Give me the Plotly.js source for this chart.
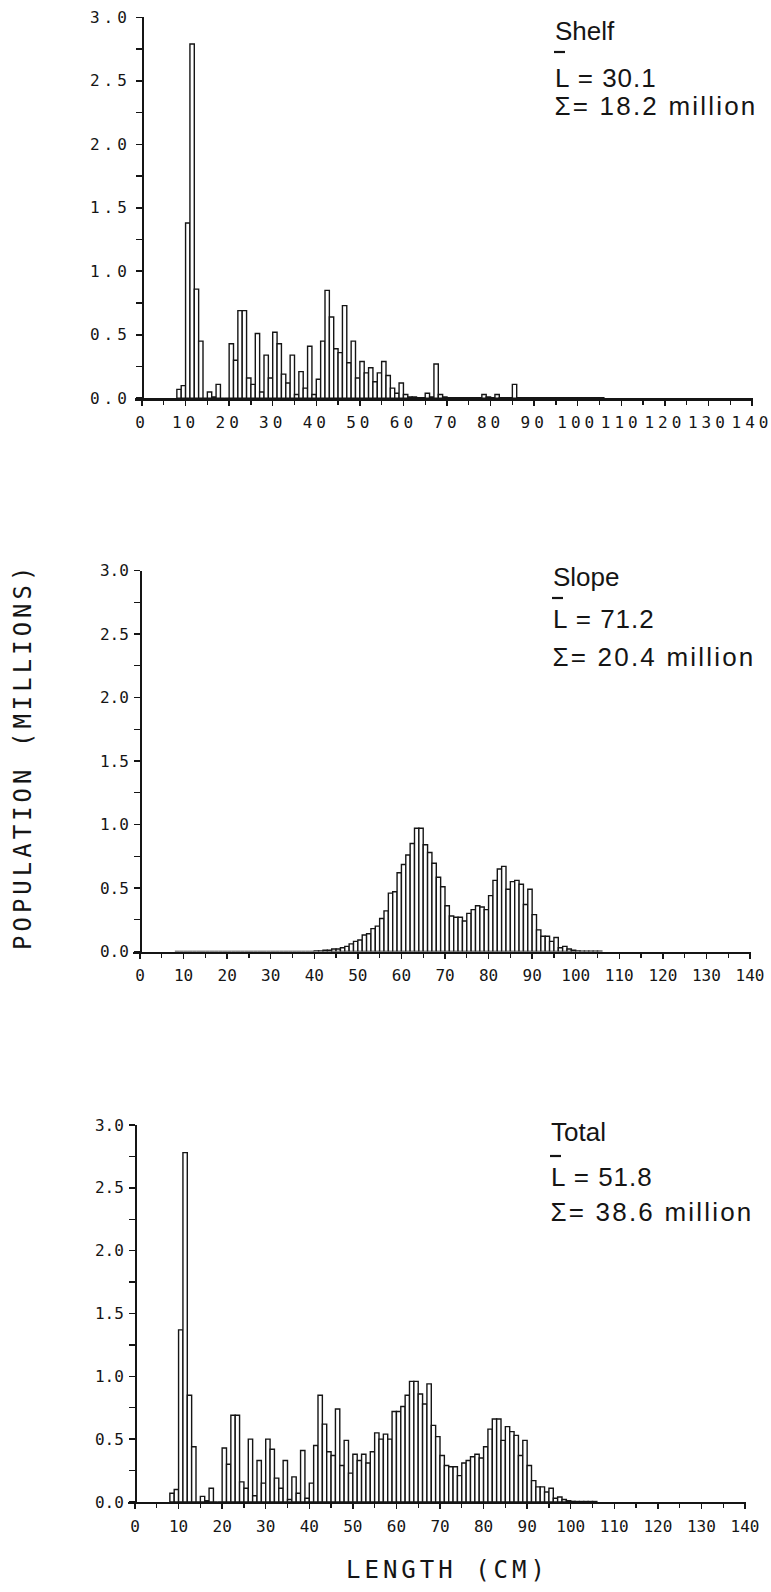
<!DOCTYPE html>
<html>
<head>
<meta charset="utf-8">
<script src="https://cdn.plot.ly/plotly-3.0.1.min.js"></script>
<style>
html,body{margin:0;padding:0;background:#fff;}
#chart{width:771px;height:1592px;}
.xtick text,.ytick text{letter-spacing:4px;}
g.annotation[data-index="0"] text, g.annotation[data-index="1"] text{letter-spacing:4px;}
g.annotation[data-index="3"] text, g.annotation[data-index="6"] text, g.annotation[data-index="9"] text{letter-spacing:1px;}
g.annotation[data-index="4"] text, g.annotation[data-index="7"] text, g.annotation[data-index="10"] text{letter-spacing:2.2px;}
</style>
</head>
<body>
<div id="chart"></div>
<script>
// Length classes (cm), left edge of each 1-cm class
const lengthClasses = [8,9,10,11,12,13,14,15,16,17,18,19,20,21,22,23,24,25,26,27,28,29,30,31,32,33,34,35,36,37,38,39,40,41,42,43,44,45,46,47,48,49,50,51,52,53,54,55,56,57,58,59,60,61,62,63,64,65,66,67,68,69,70,71,72,73,74,75,76,77,78,79,80,81,82,83,84,85,86,87,88,89,90,91,92,93,94,95,96,97,98,99,100,101,102,103,104,105];

// Population (millions) per length class
const shelfPop = [0.07,0.10,1.38,2.79,0.86,0.45,0,0.05,0.01,0.11,0,0,0.43,0.30,0.69,0.69,0.16,0.11,0.51,0.05,0.34,0.16,0.52,0.43,0.19,0.12,0.34,0.03,0.21,0.08,0.41,0.03,0.15,0.45,0.85,0.64,0.39,0.36,0.73,0.28,0.45,0.16,0.29,0.20,0.24,0.13,0.20,0.29,0.18,0.08,0.04,0.12,0.03,0.01,0.01,0.005,0.005,0.04,0.01,0.27,0.03,0.01,0.005,0.005,0.005,0.005,0.005,0.005,0.005,0.005,0.03,0.01,0.005,0.03,0.005,0.005,0.005,0.11,0.005,0.004,0.004,0.004,0.004,0.004,0.004,0.004,0.004,0.004,0.004,0.004,0.004,0.004,0.004,0.004,0.004,0.004,0.004,0.004];

const slopePop = [0,0,0,0,0,0,0,0,0,0,0,0,0,0,0,0,0,0,0,0,0,0,0,0,0,0,0,0,0,0,0,0,0.005,0.005,0.01,0.01,0.02,0.02,0.03,0.04,0.06,0.08,0.09,0.13,0.14,0.18,0.20,0.26,0.32,0.46,0.47,0.62,0.685,0.76,0.85,0.97,0.97,0.84,0.78,0.695,0.585,0.51,0.36,0.28,0.27,0.27,0.24,0.30,0.33,0.36,0.35,0.33,0.44,0.56,0.65,0.67,0.49,0.55,0.56,0.53,0.37,0.49,0.29,0.17,0.12,0.12,0.08,0.11,0.03,0.04,0.02,0.01,0.005,0.003,0.003,0.003,0.003,0.003];

const totalPop = [0.07,0.10,1.37,2.78,0.85,0.44,0,0.045,0.01,0.11,0,0,0.43,0.30,0.69,0.69,0.16,0.11,0.50,0.05,0.33,0.15,0.50,0.42,0.19,0.11,0.33,0.02,0.20,0.07,0.41,0.03,0.15,0.45,0.85,0.62,0.40,0.37,0.74,0.29,0.49,0.23,0.38,0.33,0.38,0.31,0.40,0.55,0.50,0.54,0.50,0.72,0.72,0.76,0.85,0.96,0.96,0.86,0.78,0.94,0.61,0.52,0.37,0.29,0.28,0.28,0.21,0.31,0.33,0.36,0.38,0.35,0.44,0.58,0.66,0.66,0.49,0.60,0.56,0.53,0.37,0.49,0.29,0.17,0.12,0.12,0.08,0.11,0.03,0.04,0.02,0.01,0.005,0.004,0.004,0.004,0.004,0.004];

const xTickVals = [0,10,20,30,40,50,60,70,80,90,100,110,120,130,140];
const xTickText = ['0','10','20','30','40','50','60','70','80','90','100','110','120','130','140'];
const yTickVals = [0,0.5,1.0,1.5,2.0,2.5,3.0];
const yTickText = ['0.0','0.5','1.0','1.5','2.0','2.5','3.0'];

const panelNames = ['Shelf','Slope','Total'];
const meanLength = ['30.1','71.2','51.8'];
const totalMillions = ['18.2','20.4','38.6'];

const W = 771, H = 1592;
const INK = '#151515';
const tickFont = {family: 'DejaVu Sans Mono', size: 16, color: INK};

// panel geometry in pixels
const panels = [
  {left:135, x0:142, x140:752, right:753, top:17.3, bottom:398.3,
   lab:{x:553, name:31, bar:52, L:78, S:106}},
  {left:133, x0:140, x140:750, right:751, top:570.5, bottom:951.5,
   lab:{x:551, name:577, bar:598, L:619, S:657}},
  {left:128, x0:135, x140:745, right:746, top:1125, bottom:1502,
   lab:{x:549, name:1132, bar:1156, L:1177, S:1212}}
];

const series = [shelfPop, slopePop, totalPop];
const centers = lengthClasses.map(v => v + 0.5);

const data = [];
const layout = {
  width: W, height: H,
  margin: {l:0, r:0, t:0, b:0},
  paper_bgcolor: '#fff', plot_bgcolor: 'rgba(0,0,0,0)',
  bargap: 0, showlegend: false,
  annotations: [], shapes: []
};

// axis titles first (index 0 and 1)
layout.annotations.push({
  text: 'POPULATION (MILLIONS)', xref:'paper', yref:'paper',
  x: 23/W, y: 1 - 757/H, textangle: -90, showarrow:false,
  xanchor:'center', yanchor:'middle',
  font:{family:'DejaVu Sans Mono', size:24, color:INK}
});
layout.annotations.push({
  text: 'LENGTH (CM)', xref:'paper', yref:'paper',
  x: 447/W, y: 1 - 1570/H, showarrow:false,
  xanchor:'center', yanchor:'middle',
  font:{family:'DejaVu Sans Mono', size:24, color:INK}
});

panels.forEach((p, i) => {
  const sfx = i === 0 ? '' : String(i + 1);
  const scale = (p.x140 - p.x0) / 140;
  const xmin = -(p.x0 - p.left) / scale;
  const xmax = 140 + (p.right - p.x140) / scale;
  data.push({
    type:'bar', x: centers, y: series[i], width: 1,
    xaxis: 'x' + sfx, yaxis: 'y' + sfx,
    marker: {color:'#ffffff', line:{color:INK, width:1.4}},
    hoverinfo:'skip'
  });
  layout['xaxis' + sfx] = {
    domain: [p.left / W, p.right / W],
    anchor: 'y' + sfx,
    range: [xmin, xmax],
    showline: true, linecolor: INK, linewidth: 2.4,
    showgrid: false, zeroline: false,
    ticks: 'outside', ticklen: 5, tickwidth: 1.5, tickcolor: INK,
    tickmode: 'array', tickvals: xTickVals, ticktext: xTickText,
    minor: {tickvals: [5,15,25,35,45,55,65,75,85,95,105,115,125,135], ticks:'outside', ticklen:4, tickwidth:1.3, tickcolor:INK},
    tickfont: tickFont, ticklabelstandoff: 3, ticklabeloverflow: 'allow', fixedrange: true
  };
  layout['yaxis' + sfx] = {
    domain: [1 - p.bottom / H, 1 - p.top / H],
    anchor: 'free', position: p.x0 / W,
    range: [0, 3.0],
    showline: true, linecolor: INK, linewidth: 1.8,
    showgrid: false, zeroline: false,
    ticks: 'outside', ticklen: 6, tickwidth: 1.6, tickcolor: INK,
    tickmode: 'array', tickvals: yTickVals, ticktext: yTickText,
    minor: {tickvals: [0.25,0.75,1.25,1.75,2.25,2.75], ticks:'outside', ticklen:6, tickwidth:1.4, tickcolor:INK},
    tickfont: tickFont, ticklabelstandoff: 2, ticklabeloverflow: 'allow', fixedrange: true
  };
  const annFont = {family:'Liberation Sans', size:26, color:INK};
  const lx = p.lab.x;
  // letter-spacing (CSS) widens centred text on both sides; offset by half the extra width
  layout.annotations.push({text: panelNames[i], xref:'paper', yref:'paper', x: lx / W, y: 1 - p.lab.name / H, xanchor:'left', yanchor:'middle', showarrow:false, font: annFont});
  layout.annotations.push({text: 'L = ' + meanLength[i], xref:'paper', yref:'paper', x: (lx + 4) / W, y: 1 - p.lab.L / H, xanchor:'left', yanchor:'middle', showarrow:false, font: annFont});
  layout.annotations.push({text: '\u03A3= ' + totalMillions[i] + ' million', xref:'paper', yref:'paper', x: (lx - 1 + 16.5) / W, y: 1 - p.lab.S / H, xanchor:'left', yanchor:'middle', showarrow:false, font: annFont});
  layout.shapes.push({type:'line', xref:'paper', yref:'paper', x0: (lx + 1)/W, x1: (lx + 12)/W, y0: 1 - p.lab.bar / H, y1: 1 - p.lab.bar / H, line:{color:INK, width:2.2}});
});

Plotly.newPlot('chart', data, layout, {staticPlot: true, displayModeBar: false});
</script>
</body>
</html>
